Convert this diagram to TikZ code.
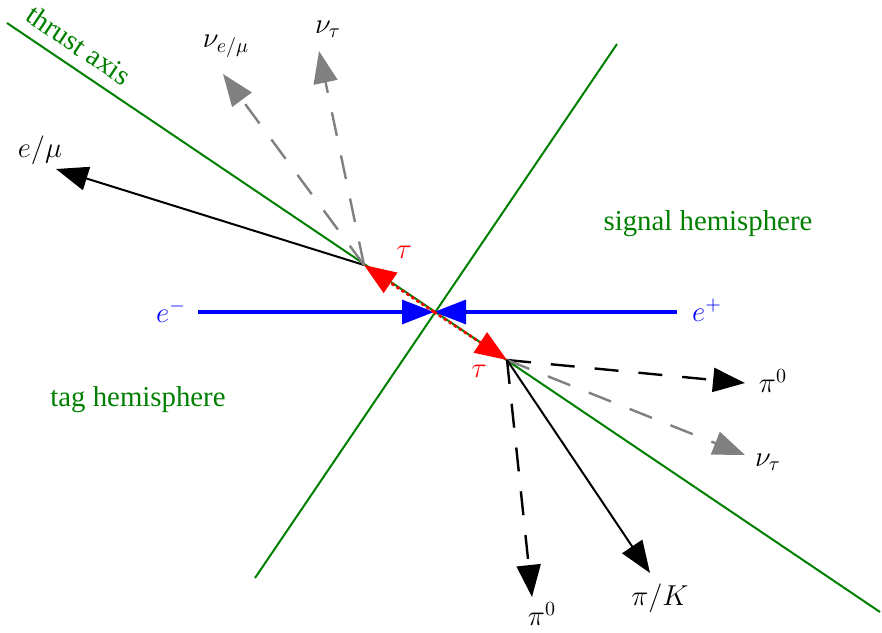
\documentclass[tikz,border=0pt]{standalone}
\usepackage[no-math]{fontspec}
\setmainfont{Liberation Serif}
\definecolor{axisgreen}{RGB}{0,128,0}
\usetikzlibrary{calc, positioning, arrows.meta}

\begin{document}
\begin{tikzpicture}[
  x=0.5pt, y=-0.5pt,
  tip/.style={-{Triangle[length=16pt, width=12pt]}},
  axisline/.style={axisgreen, line width=1pt},
  beam/.style={tip, blue, line width=1.6pt},
  taupath/.style={tip, red, line width=1.4pt, dash pattern=on 1.5pt off 1.5pt},
  charged/.style={tip, black, line width=1pt},
  neutral/.style={tip, black, line width=1.2pt, dash pattern=on 12pt off 10pt},
  nuline/.style={tip, gray, line width=1.2pt, dash pattern=on 12pt off 10pt},
  lbl/.style={font=\Large, inner sep=1pt},
  hemi/.style={font=\Large, text=axisgreen, inner sep=1pt},
]
  \useasboundingbox (0,0) rectangle (882,632);

  % interaction point and tau decay vertices
  \coordinate (ip) at (434,312);
  \coordinate (tauA) at (364,265);
  \coordinate (tauB) at (507,360);

  % thrust axis and the plane perpendicular to it
  \coordinate (axisA) at (7,23);
  \coordinate (axisB) at (880,612);
  \coordinate (planeA) at (255,578);
  \coordinate (planeB) at (617,44);
  \draw[axisline] (axisA) -- (axisB);
  \draw[axisline] (planeA) -- (planeB);
  \node[hemi, rotate=-34] (thrust) at (79,45) {thrust axis};
  \node[hemi] (signal) at (708,224) {signal hemisphere};
  \node[hemi] (tag) at (138,400) {tag hemisphere};

  % incoming beams
  \node[lbl, text=blue] (em) at (171,311) {$e^-$};
  \node[lbl, text=blue] (ep) at (707,310) {$e^+$};
  \coordinate (emstart) at (198,312);
  \coordinate (epstart) at (677,312);
  \draw[beam] (emstart) -- (ip);
  \draw[beam] (epstart) -- (ip);

  % tau pair
  \draw[taupath] (ip) -- (tauA);
  \draw[taupath] (ip) -- (tauB);
  \node[lbl, text=red] (tauAlbl) at (404,252) {$\tau$};
  \node[lbl, text=red] (tauBlbl) at (479,371) {$\tau$};

  % tag side decay
  \coordinate (lep) at (56,169);
  \coordinate (nulep) at (223,74);
  \coordinate (nutauA) at (319,51);
  \draw[charged] (tauA) -- (lep);
  \draw[nuline] (tauA) -- (nulep);
  \draw[nuline] (tauA) -- (nutauA);
  \node[lbl] (leplbl) at (40,150) {$e/\mu$};
  \node[lbl] (nuleplbl) at (226,46) {$\nu_{e/\mu}$};
  \node[lbl] (nutauAlbl) at (328,29) {$\nu_\tau$};

  % signal side decay
  \coordinate (pizA) at (745,383);
  \coordinate (nutauB) at (745,455);
  \coordinate (had) at (650,573);
  \coordinate (pizB) at (532,597);
  \draw[neutral] (tauB) -- (pizA);
  \draw[nuline] (tauB) -- (nutauB);
  \draw[charged] (tauB) -- (had);
  \draw[neutral] (tauB) -- (pizB);
  \node[lbl] (pizAlbl) at (773,381) {$\pi^0$};
  \node[lbl] (nutauBlbl) at (768,462) {$\nu_\tau$};
  \node[lbl] (hadlbl) at (660,598) {$\pi/K$};
  \node[lbl] (pizBlbl) at (542,614) {$\pi^0$};
\end{tikzpicture}
\end{document}
